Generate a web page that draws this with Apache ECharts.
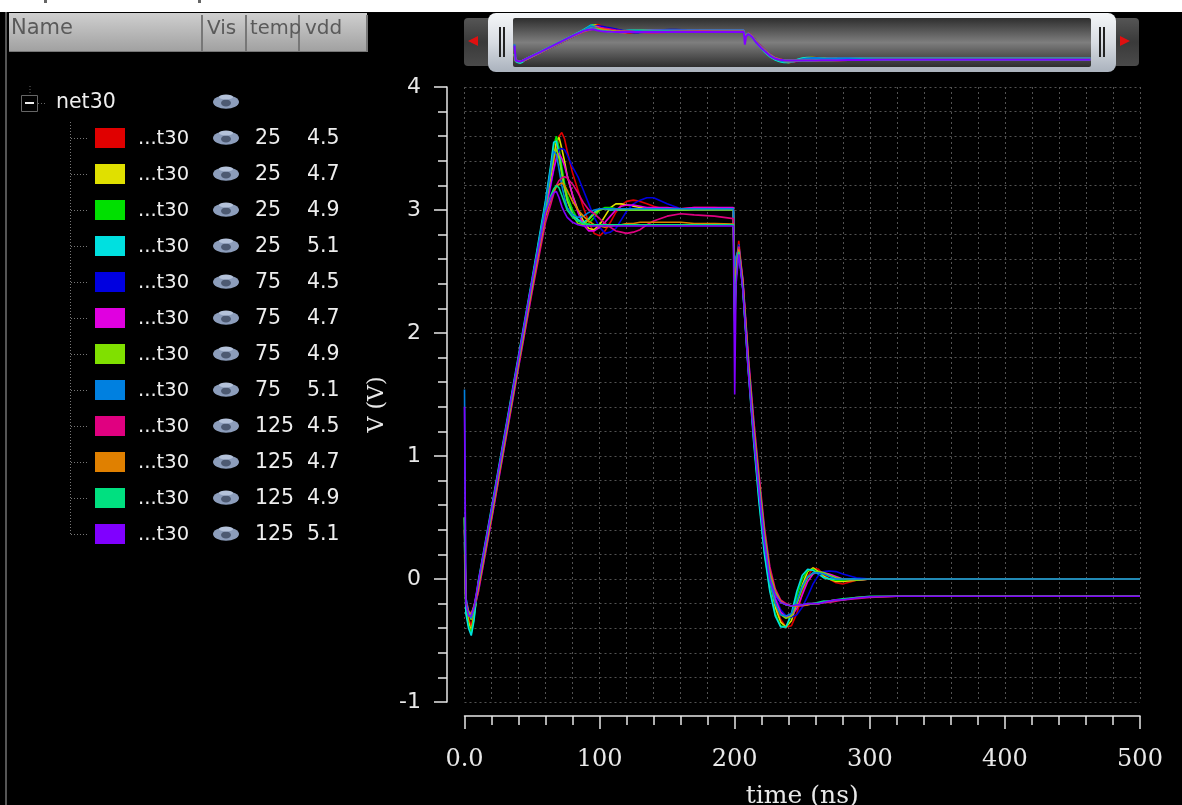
<!DOCTYPE html>
<html>
<head>
<meta charset="utf-8">
<style>html,body{margin:0;padding:0;background:#000}#c{width:1182px;height:805px}</style>
<script src="https://cdn.jsdelivr.net/npm/echarts@6/dist/echarts.min.js"></script>
</head>
<body>
<div id="c"></div>
<script>
const time = [0,1,3,5,7,10,20,30,40,50,60,64,66,68,70,72,74,76,80,84,88,92,96,100,104,108,112,116,120,125,130,135,140,150,160,170,185,199,200,201,203,206,210,214,218,222,226,230,234,238,242,246,250,254,258,262,266,270,275,280,290,300,320,500];

const temps = [25,25,25,25,75,75,75,75,125,125,125,125];
const vdds = ['4.5','4.7','4.9','5.1','4.5','4.7','4.9','5.1','4.5','4.7','4.9','5.1'];
const colors = ['#e00000','#e0e000','#00e000','#00e0e0','#0000e0','#e000e0','#80e000','#0080e0','#e00080','#e08000','#00e080','#8000ff'];
const headers = ['Name','Vis','temp','vdd'];

const v25_45 = [.2,-.2,-.32,-.38,-.28,-.1,.5,1.12,1.74,2.36,2.98,3.24,3.37,3.5,3.6,3.63,3.58,3.48,3.3,3.16,3.02,2.9,2.81,2.79,2.83,2.9,2.98,3.04,3.07,3.08,3.07,3.05,3.03,3.0,3.01,3.02,3.02,3.01,2.3,2.5,2.75,2.42,1.8,1.25,.75,.32,.02,-.2,-.33,-.39,-.38,-.28,-.12,.02,.09,.08,.03,0,-.03,-.04,-.01,0,0,0];
const v25_47 = [.3,-.22,-.35,-.42,-.3,-.08,.53,1.15,1.77,2.39,3.02,3.28,3.42,3.56,3.59,3.5,3.4,3.28,3.12,3.0,2.91,2.85,2.84,2.88,2.95,3.02,3.05,3.05,3.04,3.03,3.02,3.01,3.0,3.0,3.0,3.0,3.0,3.0,2.2,2.45,2.72,2.4,1.76,1.2,.7,.28,-.02,-.23,-.35,-.39,-.34,-.2,-.05,.06,.09,.06,.02,0,-.02,-.02,-.01,0,0,0];
const v25_49 = [.4,-.25,-.38,-.44,-.32,-.05,.56,1.18,1.8,2.42,3.06,3.35,3.52,3.6,3.5,3.35,3.22,3.12,3.0,2.92,2.88,2.89,2.94,3.0,3.02,3.02,3.01,3.0,3.0,3.0,3.0,3.0,3.0,3.0,3.0,3.0,3.0,3.0,2.25,2.5,2.7,2.38,1.72,1.15,.65,.22,-.08,-.28,-.38,-.39,-.3,-.14,0,.07,.08,.05,.01,0,-.01,-.01,0,0,0,0];
const v25_51 = [.5,-.28,-.4,-.46,-.34,-.03,.58,1.2,1.82,2.44,3.08,3.38,3.55,3.56,3.45,3.3,3.18,3.08,2.97,2.92,2.9,2.93,2.98,3.01,3.01,3.0,3.0,3.0,3.0,3.0,3.0,3.0,3.0,3.0,3.0,3.0,3.0,3.0,2.3,2.55,2.68,2.35,1.7,1.12,.62,.2,-.1,-.3,-.39,-.39,-.28,-.1,.03,.08,.07,.04,.01,0,0,0,0,0,0,0];
const v75_45 = [.3,-.15,-.26,-.3,-.24,-.12,.48,1.1,1.72,2.34,2.96,3.2,3.32,3.42,3.49,3.5,3.49,3.45,3.35,3.27,3.16,3.05,2.94,2.86,2.81,2.82,2.85,2.92,2.99,3.05,3.08,3.1,3.1,3.05,3.01,3.0,3.0,3.0,2.45,2.6,2.72,2.44,1.82,1.3,.82,.4,.08,-.14,-.25,-.3,-.31,-.29,-.23,-.14,-.04,.03,.06,.065,.06,.04,.01,0,0,0];
const v75_47 = [.4,-.17,-.28,-.32,-.24,-.09,.5,1.13,1.75,2.37,2.99,3.22,3.33,3.42,3.46,3.42,3.36,3.28,3.12,2.98,2.88,2.83,2.83,2.86,2.9,2.95,3.0,3.03,3.04,3.04,3.03,3.02,3.02,3.02,3.01,3.02,3.02,3.02,2.15,2.5,2.7,2.42,1.78,1.25,.78,.36,.05,-.16,-.27,-.31,-.3,-.24,-.13,-.02,.04,.06,.05,.04,.02,0,-.01,0,0,0];
const v75_49 = [.5,-.18,-.28,-.33,-.25,-.06,.54,1.16,1.78,2.4,3.03,3.3,3.43,3.5,3.42,3.3,3.18,3.08,2.96,2.89,2.88,2.92,2.97,3.0,3.01,3.01,3.01,3.0,3.0,3.0,3.0,3.0,3.0,3.0,3.0,3.0,3.0,3.0,2.4,2.6,2.7,2.38,1.74,1.2,.72,.3,0,-.2,-.29,-.32,-.3,-.2,-.08,.01,.05,.06,.05,.03,.01,0,-.01,0,0,0];
const v75_51 = [1.54,-.15,-.27,-.32,-.24,-.05,.55,1.17,1.79,2.42,3.05,3.34,3.48,3.45,3.33,3.2,3.1,3.02,2.96,2.94,2.95,2.98,3.0,3.01,3.01,3.01,3.01,3.01,3.01,3.01,3.01,3.01,3.01,3.01,3.01,3.01,3.01,3.01,2.5,2.62,2.68,2.36,1.72,1.17,.7,.27,-.02,-.2,-.29,-.3,-.28,-.18,-.06,.02,.05,.05,.04,.02,0,0,0,0,0,0];
const v125_45 = [.4,-.18,-.26,-.28,-.22,-.12,.48,1.1,1.72,2.33,2.9,3.05,3.13,3.2,3.24,3.26,3.27,3.26,3.21,3.14,3.06,3.0,2.97,2.93,2.89,2.86,2.83,2.82,2.81,2.82,2.84,2.88,2.91,2.95,2.97,2.96,2.95,2.93,2.2,2.5,2.7,2.44,1.82,1.3,.85,.42,.1,-.08,-.17,-.2,-.22,-.22,-.22,-.21,-.2,-.2,-.19,-.19,-.18,-.17,-.16,-.15,-.14,-.14];
const v125_47 = [.5,-.19,-.27,-.29,-.22,-.09,.51,1.13,1.75,2.37,2.95,3.09,3.15,3.19,3.21,3.22,3.2,3.16,3.07,3.0,2.95,2.91,2.88,2.87,2.86,2.87,2.88,2.88,2.89,2.89,2.9,2.9,2.9,2.9,2.9,2.89,2.89,2.885,2.1,2.5,2.68,2.42,1.78,1.25,.8,.38,.06,-.1,-.18,-.21,-.22,-.22,-.21,-.21,-.2,-.2,-.19,-.18,-.17,-.17,-.15,-.145,-.14,-.14];
const v125_49 = [.5,-.2,-.28,-.3,-.23,-.06,.54,1.16,1.78,2.4,3.0,3.12,3.17,3.2,3.18,3.12,3.06,3.0,2.94,2.91,2.89,2.88,2.88,2.88,2.88,2.88,2.88,2.88,2.88,2.88,2.88,2.88,2.88,2.88,2.88,2.88,2.88,2.88,2.0,2.45,2.66,2.38,1.74,1.2,.76,.34,.02,-.12,-.19,-.21,-.22,-.21,-.21,-.2,-.2,-.19,-.18,-.18,-.17,-.16,-.15,-.14,-.14,-.14];
const v125_51 = [1.4,-.2,-.3,-.3,-.23,-.04,.56,1.18,1.8,2.42,2.98,3.1,3.14,3.15,3.1,3.03,2.98,2.94,2.9,2.88,2.87,2.87,2.87,2.87,2.87,2.87,2.87,2.87,2.87,2.87,2.87,2.87,2.87,2.87,2.87,2.87,2.87,2.87,1.5,2.4,2.64,2.36,1.7,1.17,.72,.3,0,-.13,-.19,-.21,-.22,-.21,-.21,-.2,-.2,-.2,-.19,-.18,-.17,-.17,-.155,-.145,-.14,-.14];

const seriesValues = [v25_45,v25_47,v25_49,v25_51,v75_45,v75_47,v75_49,v75_51,v125_45,v125_47,v125_49,v125_51];

const sans = '"DejaVu Sans"', serif = '"DejaVu Serif"';
const txt = (x,y,text,size,fill,font,extra) => ({type:'text',x,y,silent:true,style:Object.assign({text,fill,font:`${size}px ${font||sans}`,textVerticalAlign:'middle'},extra||{})});
const g = [];
// window strip and left edge
g.push({type:'rect',shape:{x:0,y:0,width:1182,height:12},style:{fill:'#fff'}});
g.push({type:'rect',shape:{x:5,y:12,width:2,height:793},style:{fill:'#555'}});
g.push({type:'rect',shape:{x:44,y:0,width:3,height:3},style:{fill:'#666'}});
g.push({type:'rect',shape:{x:198,y:0,width:3,height:3},style:{fill:'#666'}});
// table header
g.push({type:'rect',shape:{x:9,y:13,width:358,height:39},style:{fill:new echarts.graphic.LinearGradient(0,0,0,1,[{offset:0,color:'#cfcfcf'},{offset:1,color:'#a0a0a0'}])}});
[[201],[245],[298],[366]].forEach(a=>g.push({type:'rect',shape:{x:a[0],y:15,width:2,height:37},style:{fill:'#777'}}));
g.push({type:'rect',shape:{x:9,y:51,width:358,height:1},style:{fill:'#777'}});
const headerSizes = [21,20,19.5,20];
[11,207,250,305].forEach((x,i)=>g.push(txt(x,29,headers[i],headerSizes[i],'#5a5a5a')));
// tree
const eye = (cx,cy)=>[
 {type:'circle',shape:{cx:0,cy:0,r:13},x:cx,y:cy,scaleY:.52,style:{fill:'#8c9dbb'}},
 {type:'circle',shape:{cx:0,cy:0,r:5},x:cx,y:cy+1,scaleY:.7,style:{fill:'#4d5a72'}},
 {type:'circle',shape:{cx:0,cy:0,r:7},x:cx,y:cy-5,scaleY:.35,style:{fill:'#b4c2da'}}
];
g.push({type:'rect',shape:{x:21.5,y:95.5,width:16,height:16},style:{fill:'#000',stroke:'#666',lineWidth:1}});
g.push({type:'rect',shape:{x:25,y:102,width:9,height:2},style:{fill:'#eee'}});
g.push({type:'line',shape:{x1:30,y1:86,x2:30,y2:95},style:{stroke:'#666',lineDash:[1,2]}});
g.push({type:'line',shape:{x1:38,y1:103.5,x2:47,y2:103.5},style:{stroke:'#666',lineDash:[1,2]}});
g.push(txt(56,103,'net30',20.5,'#eee'));
g.push(...eye(226,102));
g.push({type:'line',shape:{x1:70.5,y1:122,x2:70.5,y2:536},style:{stroke:'#777',lineDash:[1,2]}});
colors.forEach((c,i)=>{
  const y = 138 + i*36;
  g.push({type:'line',shape:{x1:71,y1:y+.5,x2:88,y2:y+.5},style:{stroke:'#777',lineDash:[1,2]}});
  g.push({type:'rect',shape:{x:95,y:y-10,width:30,height:20},style:{fill:c}});
  g.push(txt(138,y+1,'...t30',19.5,'#eee'));
  g.push(...eye(226,y));
  g.push(txt(255,y+1,String(temps[i]),20.5,'#eee'));
  g.push(txt(307,y+1,vdds[i],20.5,'#eee'));
});
// overview slider chrome
const btn = new echarts.graphic.LinearGradient(0,0,0,1,[{offset:0,color:'#555'},{offset:.5,color:'#3a3a3a'},{offset:1,color:'#4a4a4a'}]);
g.push({type:'rect',shape:{x:464,y:18,width:30,height:48,r:4},style:{fill:btn}});
g.push({type:'rect',shape:{x:1110,y:18,width:29,height:48,r:4},style:{fill:btn}});
g.push({type:'polygon',shape:{points:[[468,41],[478,36],[478,46]]},style:{fill:'#e01010'}});
g.push({type:'polygon',shape:{points:[[1130,41],[1120,36],[1120,46]]},style:{fill:'#e01010'}});
g.push({type:'rect',shape:{x:488,y:13,width:628,height:59,r:8},style:{fill:new echarts.graphic.LinearGradient(0,0,0,1,[{offset:0,color:'#f4f6f8'},{offset:.5,color:'#d8dce2'},{offset:1,color:'#aab2bd'}])}});
g.push({type:'rect',shape:{x:513,y:18,width:578,height:49,r:2},style:{fill:new echarts.graphic.LinearGradient(0,0,0,1,[{offset:0,color:'#2e2e2e'},{offset:.5,color:'#7e7e7e'},{offset:1,color:'#2e2e2e'}])}});
[499,503,1099,1103].forEach(x=>g.push({type:'rect',shape:{x,y:27,width:2,height:30},style:{fill:'#222'}}));

const lineSeries = (xi,yi,w) => seriesValues.map((vals,i)=>({
  type:'line',name:temps[i]+' / '+vdds[i],xAxisIndex:xi,yAxisIndex:yi,
  data:vals.map((v,k)=>[time[k],v]),showSymbol:false,symbol:'none',silent:true,clip:false,
  lineStyle:{color:colors[i],width:w},itemStyle:{color:colors[i]},animation:false
}));

const gridDash = {color:'#525252',type:[2,3],width:1};
const axisWhite = {lineStyle:{color:'#e8e8e8',width:1.5}};
const tickWhite = {lineStyle:{color:'#e8e8e8',width:1.5}};

const chart = echarts.init(document.getElementById('c'),null,{renderer:'canvas'});
chart.setOption({
  backgroundColor:'#000',animation:false,
  graphic:{elements:g},
  tooltip:{show:false},legend:{show:false},
  grid:[
    {left:464.5,width:675.5,top:87,height:615,containLabel:false,outerBoundsMode:'none'},
    {left:514.5,width:576,top:19,height:47,containLabel:false,outerBoundsMode:'none'}
  ],
  xAxis:[
    {type:'value',gridIndex:0,min:0,max:500,interval:100,offset:14,position:'bottom',
     name:'time (ns)',nameLocation:'middle',nameGap:68,
     nameTextStyle:{color:'#e8e8e8',fontFamily:serif,fontSize:25},
     axisLine:Object.assign({show:true,onZero:false},axisWhite),
     axisTick:Object.assign({show:true,length:13,inside:false},tickWhite),
     minorTick:{show:true,splitNumber:5,length:9,lineStyle:{color:'#e8e8e8',width:1.5}},
     splitLine:{show:true,lineStyle:gridDash},minorSplitLine:{show:true,lineStyle:gridDash},
     axisLabel:{color:'#e8e8e8',fontFamily:serif,fontSize:24,margin:32,hideOverlap:false,showMinLabel:true,showMaxLabel:true,
       formatter:v=>v===0?'0.0':String(v)}},
    {type:'value',gridIndex:1,min:0,max:500,show:false}
  ],
  yAxis:[
    {type:'value',gridIndex:0,min:-1,max:4,interval:1,offset:17.5,position:'left',
     name:'V (V)',nameLocation:'middle',nameGap:48,nameRotate:90,
     nameTextStyle:{color:'#e8e8e8',fontFamily:serif,fontSize:22,padding:[0,20,0,0]},
     axisLine:Object.assign({show:true,onZero:false},axisWhite),
     axisTick:Object.assign({show:true,length:13,inside:false},tickWhite),
     minorTick:{show:true,splitNumber:5,length:9,lineStyle:{color:'#e8e8e8',width:1.5}},
     splitLine:{show:true,lineStyle:gridDash},minorSplitLine:{show:true,lineStyle:gridDash},
     axisLabel:{color:'#e8e8e8',fontFamily:sans,fontSize:22,margin:26,padding:[0,0,4,0],hideOverlap:false,showMinLabel:true,showMaxLabel:true}},
    {type:'value',gridIndex:1,min:-.8,max:4.26,show:false}
  ],
  series:[...lineSeries(0,0,1.6),...lineSeries(1,1,2)]
});
</script>
</body>
</html>
